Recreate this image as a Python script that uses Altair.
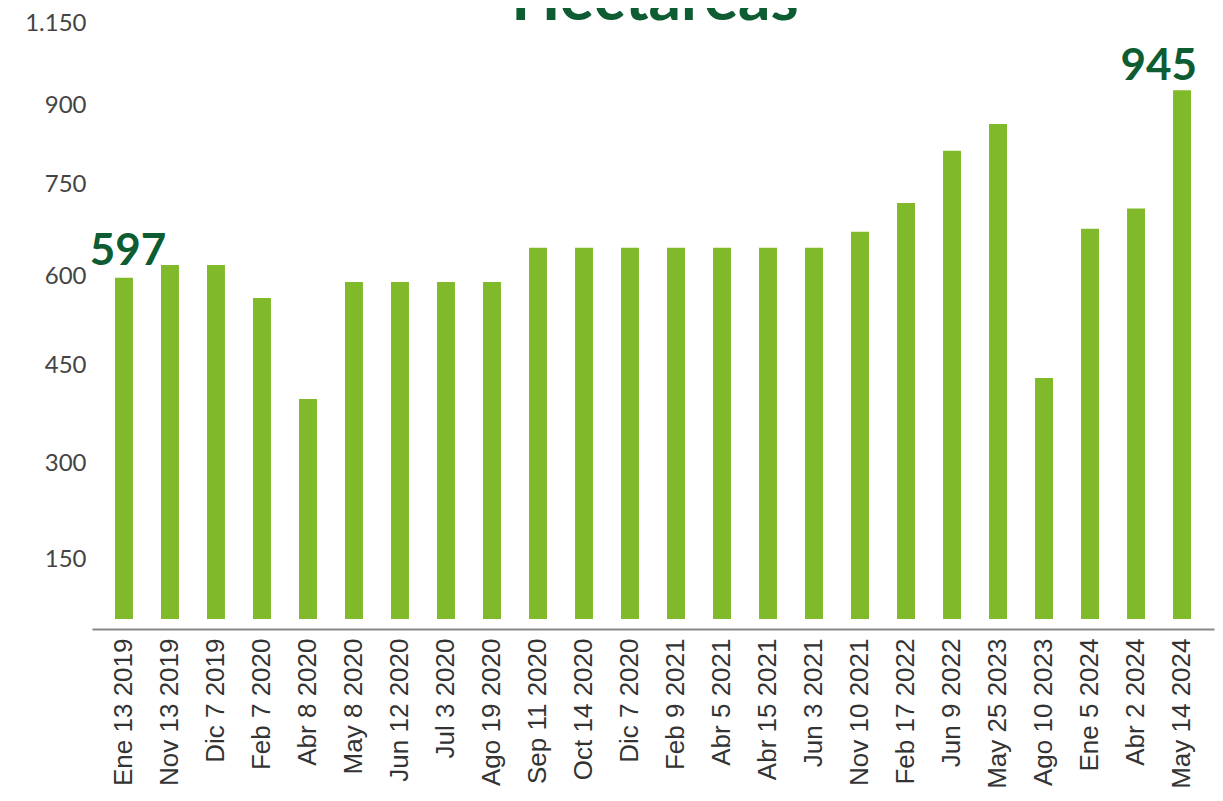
import altair as alt
import pandas as pd

fechas = ["Ene 13 2019", "Nov 13 2019", "Dic 7 2019", "Feb 7 2020", "Abr 8 2020",
          "May 8 2020", "Jun 12 2020", "Jul 3 2020", "Ago 19 2020", "Sep 11 2020",
          "Oct 14 2020", "Dic 7 2020", "Feb 9 2021", "Abr 5 2021", "Abr 15 2021",
          "Jun 3 2021", "Nov 10 2021", "Feb 17 2022", "Jun 9 2022", "May 25 2023",
          "Ago 10 2023", "Ene 5 2024", "Abr 2 2024", "May 14 2024"]
hectareas = [597, 618, 618, 563, 398, 590, 590, 590, 590, 646,
             646, 646, 646, 646, 646, 646, 672, 719, 813, 864,
             430, 677, 710, 945]
ticks_y = [150, 300, 450, 600, 750, 900, 1150]
titulo = ["Hectáreas"]

df = pd.DataFrame({"fecha": fechas, "ha": hectareas})
df_t = pd.DataFrame({"t": titulo})

W, H = 1122, 611
BAR = "#80b92a"
DARK = "#0d5c32"

# piecewise scale reproducing the irregular axis spacing of the original graphic
y_scale = alt.Scale(domain=[0] + ticks_y,
                    range=[611, 551, 455, 357, 268, 176, 97, 15],
                    nice=False, zero=False)
x_scale = alt.Scale(paddingInner=0.61, paddingOuter=0.5)

x_enc = alt.X("fecha:N", sort=fechas, scale=x_scale, title=None,
              axis=alt.Axis(labelAngle=270, labelFont="Liberation Sans",
                            labelFontSize=26, labelColor="#333333",
                            labelPadding=9, ticks=False, offset=10,
                            domainColor="#888888", domainWidth=2,
                            labelOverlap=False))
y_enc = alt.Y("ha:Q", scale=y_scale, title=None,
              axis=alt.Axis(values=ticks_y, grid=False, domain=False,
                            ticks=False, tickSize=0, labelPadding=6,
                            labelFont="Lato", labelFontSize=24,
                            labelColor="#444444",
                            labelExpr="replace(format(datum.value, ','), ',', '.')"))

bars = alt.Chart(df).mark_bar(color=BAR).encode(x=x_enc, y=y_enc)

first = alt.Chart(df).transform_filter(alt.datum.fecha == fechas[0]).mark_text(
    font="Lato", fontWeight="bold", fontSize=44, color=DARK,
    baseline="alphabetic", align="center", dx=4, dy=-13
).encode(x=alt.X("fecha:N", sort=fechas), y=alt.Y("ha:Q"), text=alt.Text("ha:Q"))

last = alt.Chart(df).transform_filter(alt.datum.fecha == fechas[-1]).mark_text(
    font="Lato", fontWeight="bold", fontSize=44, color=DARK,
    baseline="alphabetic", align="right", dx=15, dy=-10
).encode(x=alt.X("fecha:N", sort=fechas), y=alt.Y("ha:Q"), text=alt.Text("ha:Q"))

title = alt.Chart(df_t).mark_text(
    font="Lato", fontWeight="bold", fontSize=64, color=DARK,
    baseline="alphabetic", align="center"
).encode(text="t:N", x=alt.value(W / 2 + 2), y=alt.value(12))

chart = alt.layer(bars, first, last, title).properties(
    width=W, height=H,
    background="white",
    autosize=alt.AutoSizeParams(type="none"),
    padding={"left": 84, "top": 0, "right": 1, "bottom": 172},
).configure_view(strokeWidth=0, stroke="transparent")

chart.save("out.html", embed_options={"renderer": "svg", "actions": False})
